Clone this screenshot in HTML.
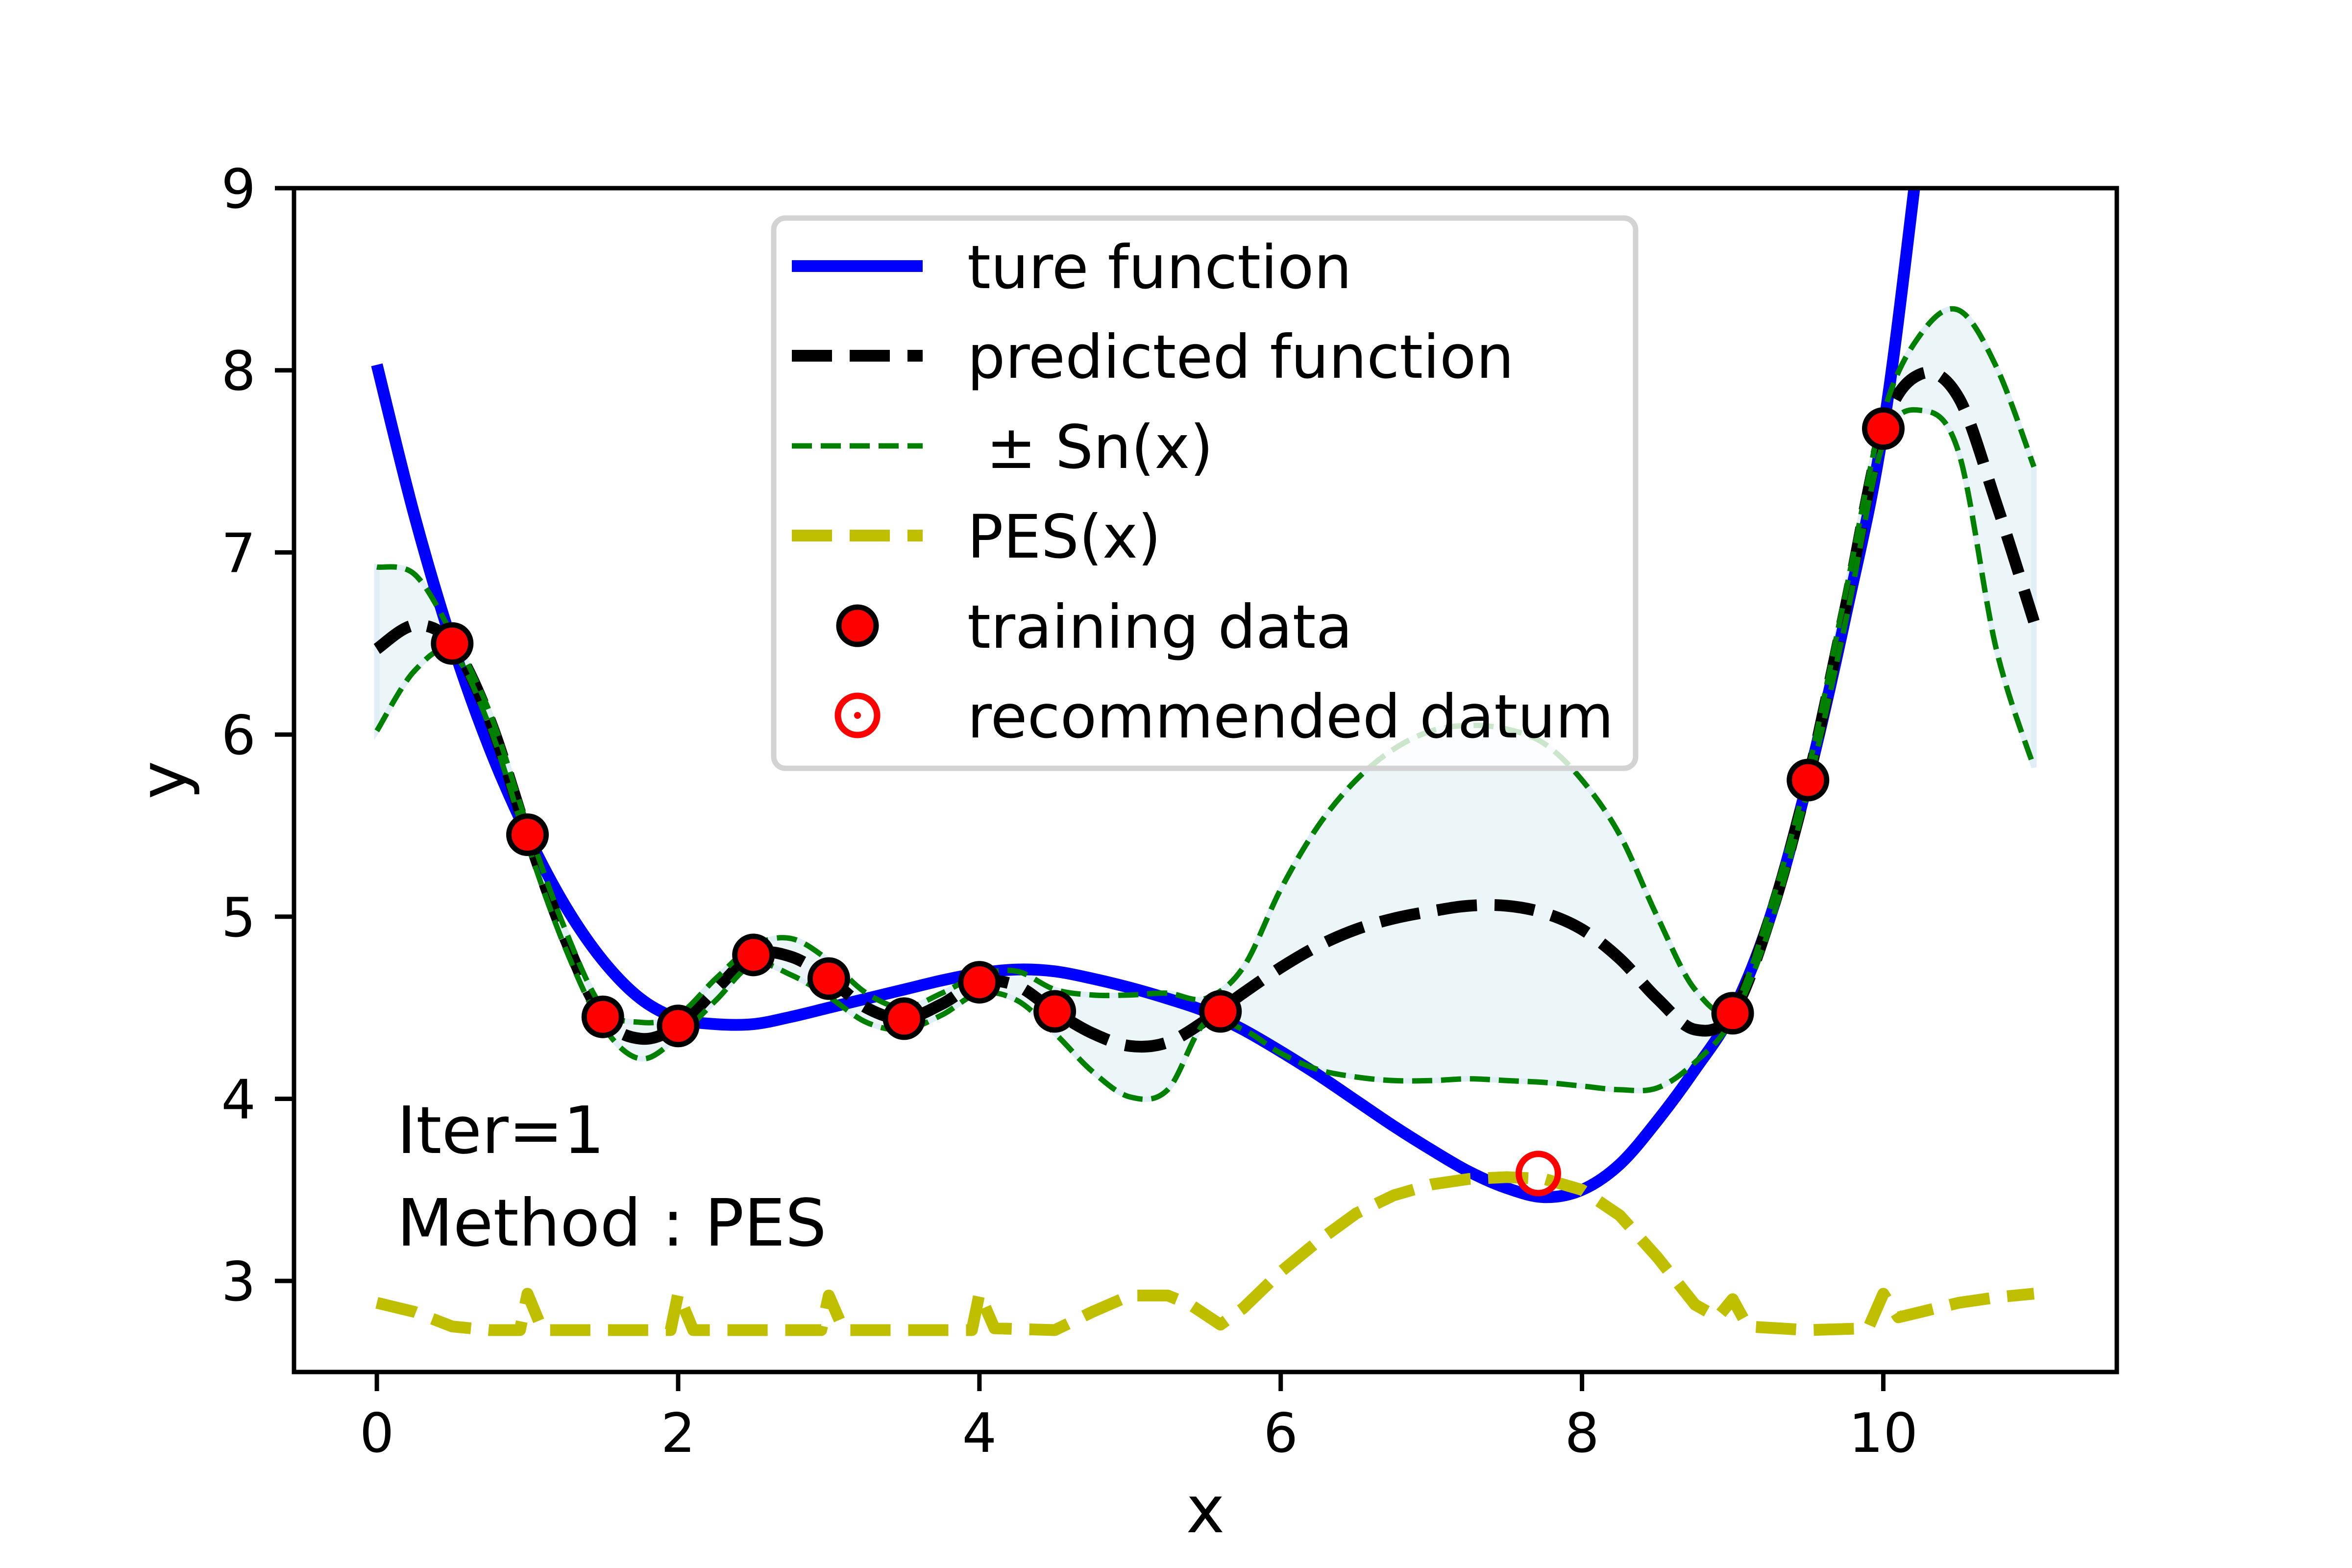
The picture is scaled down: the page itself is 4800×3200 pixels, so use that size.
<!DOCTYPE html>
<html><head><meta charset="utf-8"><style>
html,body{margin:0;padding:0;background:#fff;}
svg{display:block;}
text{font-family:"DejaVu Sans","Liberation Sans",sans-serif;}
</style></head><body>
<svg id="chart" width="4800" height="3200" viewBox="0 0 4800 3200" xmlns="http://www.w3.org/2000/svg">
<defs><clipPath id="clipAx"><rect x="600" y="384" width="3720" height="2416"/></clipPath></defs>
<rect x="0" y="0" width="4800" height="3200" fill="#fff"/>
<g id="plot" clip-path="url(#clipAx)"></g>
<g id="axes"></g>
<g id="legend"></g>
<text x="810" y="2353" font-size="133">Iter=1</text>
<text x="810" y="2542" font-size="133">Method : PES</text>
<text x="2460" y="3127" font-size="133" text-anchor="middle">x</text>
<text x="379" y="1592" font-size="133" text-anchor="middle" transform="rotate(-90 379 1592)">y</text>
</svg>
<script>
const gridX = [0,0.25,0.5,0.75,1,1.25,1.5,1.75,2,2.25,2.5,2.75,3,3.25,3.5,3.75,4,4.25,4.5,4.75,5,5.25,5.5,5.75,6,6.25,6.5,6.75,7,7.25,7.5,7.75,8,8.25,8.5,8.75,9,9.25,9.5,9.75,10,10.25,10.5,10.75,11];
const meanY = [6.47,6.60,6.50,6.08,5.45,4.88,4.45,4.33,4.40,4.60,4.79,4.78,4.66,4.50,4.44,4.52,4.64,4.62,4.48,4.36,4.29,4.31,4.43,4.58,4.72,4.84,4.93,4.99,5.03,5.06,5.06,5.02,4.93,4.77,4.55,4.38,4.47,5.00,5.75,6.70,7.68,7.98,7.85,7.27,6.62];
const upperY = [6.92,6.88,6.55,6.12,5.50,4.93,4.50,4.42,4.46,4.66,4.84,4.88,4.76,4.58,4.50,4.58,4.68,4.70,4.60,4.57,4.57,4.58,4.55,4.72,5.15,5.50,5.75,5.92,6.02,6.05,6.03,5.95,5.75,5.45,5.00,4.60,4.50,5.05,5.80,6.78,7.76,8.20,8.33,8.02,7.47];
const lowerY = [6.02,6.35,6.45,6.04,5.40,4.83,4.40,4.22,4.34,4.54,4.74,4.68,4.56,4.42,4.38,4.46,4.58,4.54,4.36,4.15,4.01,4.05,4.42,4.38,4.25,4.16,4.12,4.10,4.10,4.11,4.10,4.09,4.07,4.05,4.06,4.20,4.44,4.95,5.70,6.62,7.60,7.78,7.55,6.47,5.82];
const trueX = [0,0.25,0.5,0.75,1,1.25,1.5,1.75,2,2.25,2.5,2.75,3,3.25,3.5,3.75,4,4.25,4.5,4.75,5,5.25,5.5,5.75,6,6.25,6.5,6.75,7,7.25,7.5,7.75,8,8.25,8.5,8.75,9,9.25,9.5,9.75,10,10.25,10.5];
const trueY = [8.03,7.20,6.50,5.92,5.45,5.06,4.76,4.55,4.44,4.41,4.41,4.45,4.50,4.55,4.60,4.65,4.69,4.71,4.70,4.66,4.61,4.55,4.48,4.38,4.26,4.13,3.99,3.85,3.72,3.60,3.51,3.46,3.50,3.64,3.88,4.16,4.48,5.00,5.75,6.65,7.68,9.30,11.0];
const pesX = [0,0.25,0.5,0.75,0.95,1.0,1.1,1.95,2.0,2.1,2.95,3.0,3.1,3.95,4.0,4.1,4.5,4.75,5.0,5.25,5.4,5.6,5.75,6.0,6.25,6.5,6.75,7.0,7.25,7.5,7.75,8.0,8.25,8.5,8.75,8.9,9.0,9.1,9.5,9.9,10.0,10.1,10.5,10.75,11];
const pesY = [2.88,2.83,2.75,2.73,2.73,2.93,2.73,2.73,2.93,2.73,2.73,2.92,2.73,2.73,2.93,2.74,2.73,2.83,2.92,2.92,2.87,2.76,2.85,3.05,3.22,3.37,3.47,3.53,3.56,3.57,3.56,3.50,3.36,3.13,2.87,2.80,2.90,2.75,2.73,2.74,2.93,2.80,2.88,2.91,2.93];
const trainX = [0.5,1,1.5,2,2.5,3,3.5,4,4.5,5.6,9,9.5,10];
const trainY = [6.50,5.45,4.45,4.40,4.79,4.66,4.44,4.64,4.48,4.48,4.47,5.75,7.68];
const recX = [7.71];
const recY = [3.59];
const xTicks = [0,2,4,6,8,10];
const yTicks = [3,4,5,6,7,8,9];

const NS = "http://www.w3.org/2000/svg";
const X0 = 600, X1 = 4320, Y0 = 384, Y1 = 2800;
const xmin = -0.55, xmax = 11.55, ymin = 2.5, ymax = 9;
function sx(v){ return X0 + (v - xmin) / (xmax - xmin) * (X1 - X0); }
function sy(v){ return Y1 - (v - ymin) / (ymax - ymin) * (Y1 - Y0); }
function mk(tag, attrs, parent){
  const e = document.createElementNS(NS, tag);
  for (const k in attrs) e.setAttribute(k, attrs[k]);
  parent.appendChild(e);
  return e;
}
function pts(xs, ys){ return xs.map((x,i)=>[sx(x), sy(ys[i])]); }
function smoothD(p, move){
  let d = (move ? "M" : "L") + p[0][0].toFixed(1) + "," + p[0][1].toFixed(1);
  for (let i = 0; i < p.length - 1; i++){
    const p0 = p[Math.max(0,i-1)], p1 = p[i], p2 = p[i+1], p3 = p[Math.min(p.length-1,i+2)];
    const c1 = [p1[0] + (p2[0]-p0[0])/6, p1[1] + (p2[1]-p0[1])/6];
    const c2 = [p2[0] - (p3[0]-p1[0])/6, p2[1] - (p3[1]-p1[1])/6];
    d += "C" + c1[0].toFixed(1)+","+c1[1].toFixed(1)+" "+c2[0].toFixed(1)+","+c2[1].toFixed(1)+" "+p2[0].toFixed(1)+","+p2[1].toFixed(1);
  }
  return d;
}
function linearD(p){ return "M" + p.map(q=>q[0].toFixed(1)+","+q[1].toFixed(1)).join("L"); }

const plot = document.getElementById("plot");
const up = pts(gridX, upperY), lo = pts(gridX, lowerY);
const band = mk("path", {d: smoothD(up, true) + smoothD(lo.slice().reverse(), false) + "Z", fill: "#ecf6f9", stroke: "#dfeff5", "stroke-width": 11}, plot);


const tl = mk("path", {d: smoothD(pts(trueX, trueY), true), fill: "none", stroke: "#0000ff", "stroke-width": 24}, plot);


const pl = mk("path", {d: smoothD(pts(gridX, meanY), true), fill: "none", stroke: "#000", "stroke-width": 24, "stroke-dasharray": "82 36"}, plot);


const ul = mk("path", {d: smoothD(up, true), fill: "none", stroke: "#008000", "stroke-width": 11, "stroke-dasharray": "41 18"}, plot);


const ll = mk("path", {d: smoothD(lo, true), fill: "none", stroke: "#008000", "stroke-width": 11, "stroke-dasharray": "41 18"}, plot);


const pes = mk("path", {d: linearD(pts(pesX, pesY)), fill: "none", stroke: "#bfbf00", "stroke-width": 24, "stroke-dasharray": "82 36", "stroke-linejoin": "round"}, plot);


trainX.forEach((x,i)=>{
  const c = mk("circle", {cx: sx(x), cy: sy(trainY[i]), r: 38, fill: "#ff0000", stroke: "#000", "stroke-width": 11}, plot);
  
  
});
recX.forEach((x,i)=>{
  const c = mk("circle", {cx: sx(x), cy: sy(recY[i]), r: 40, fill: "none", stroke: "#ff0000", "stroke-width": 13}, plot);
  
  
});

const axes = document.getElementById("axes");
xTicks.forEach(v=>{
  const t = mk("line", {x1: sx(v), x2: sx(v), y1: Y1, y2: Y1 + 39, stroke: "#000", "stroke-width": 9}, axes);
  
  
  const l = mk("text", {x: sx(v), y: 2963, "font-size": 111, "text-anchor": "middle"}, axes);
  l.textContent = String(v);
  
  
});
yTicks.forEach(v=>{
  const t = mk("line", {x1: X0 - 39, x2: X0, y1: sy(v), y2: sy(v), stroke: "#000", "stroke-width": 9}, axes);
  
  
  const l = mk("text", {x: 522, y: sy(v) + 40, "font-size": 111, "text-anchor": "end"}, axes);
  l.textContent = String(v);
  
  
});
const frame = mk("rect", {x: X0, y: Y0, width: X1 - X0, height: Y1 - Y0, fill: "none", stroke: "#000", "stroke-width": 9}, axes);



const lg = document.getElementById("legend");
const box = mk("rect", {x: 1579, y: 445, width: 1759, height: 1123, rx: 24, fill: "#fff", "fill-opacity": 0.8, stroke: "#d3d3d3", "stroke-width": 11}, lg);


const rows = [543, 726, 910, 1093, 1277, 1460];
const labels = ["ture function","predicted function","\u00a0\u00b1 Sn(x)","PES(x)","training data","recommended datum"];
const h1 = mk("line", {x1: 1616, x2: 1883, y1: rows[0], y2: rows[0], stroke: "#0000ff", "stroke-width": 24}, lg);


const h2 = mk("line", {x1: 1616, x2: 1883, y1: rows[1], y2: rows[1], stroke: "#000", "stroke-width": 24, "stroke-dasharray": "82 36"}, lg);


const h3 = mk("line", {x1: 1616, x2: 1883, y1: rows[2], y2: rows[2], stroke: "#008000", "stroke-width": 11, "stroke-dasharray": "41 18"}, lg);


const h4 = mk("line", {x1: 1616, x2: 1883, y1: rows[3], y2: rows[3], stroke: "#bfbf00", "stroke-width": 24, "stroke-dasharray": "82 36"}, lg);


const h5 = mk("circle", {cx: 1750, cy: rows[4], r: 38, fill: "#ff0000", stroke: "#000", "stroke-width": 11}, lg);


const h6 = mk("circle", {cx: 1750, cy: rows[5], r: 40, fill: "none", stroke: "#ff0000", "stroke-width": 13}, lg);


const h6d = mk("circle", {cx: 1750, cy: rows[5], r: 7, fill: "#ff0000"}, lg);


labels.forEach((s,i)=>{
  const t = mk("text", {x: 1974, y: rows[i] + 45, "font-size": 122}, lg);
  t.textContent = s;
  
  
});
</script>
</body></html>
